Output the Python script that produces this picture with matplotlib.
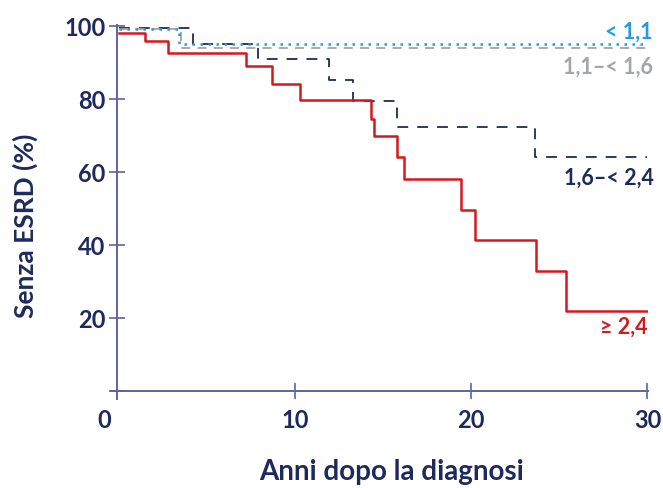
import matplotlib
matplotlib.use("Agg")
import matplotlib.pyplot as plt
from matplotlib.transforms import ScaledTranslation

# ---- data ----
t_lt11 = [0, 3.4, 30]
s_lt11 = [99.1, 94.9, 94.9]

t_11_16 = [0, 3.5, 30]
s_11_16 = [99.1, 94.0, 94.0]

t_16_24 = [0, 4.2, 7.9, 11.9, 13.3, 15.8, 23.6, 30]
s_16_24 = [99.3, 95.0, 90.9, 85.1, 79.5, 72.4, 64.1, 64.1]

t_ge24 = [0, 1.5, 2.8, 7.2, 8.7, 10.3, 14.3, 14.5, 15.8, 16.2, 19.4, 20.2, 23.7, 25.4, 30]
s_ge24 = [98.0, 95.9, 92.4, 88.9, 84.1, 79.7, 74.6, 69.7, 64.1, 58.0, 49.6, 41.3, 32.8, 22.0, 22.0]

x_ticks = [0, 10, 20, 30]
y_ticks = [20, 40, 60, 80, 100]
labels = ["< 1,1", "1,1\u2013< 1,6", "1,6\u2013< 2,4", "\u2265 2,4"]
xlabel = "Anni dopo la diagnosi"
ylabel = "Senza ESRD (%)"

# ---- style ----
NAVY = "#1f2a5c"
AXC = "#5d6592"
RED = "#d4181f"
BLUE = "#2b9ad8"
GRAY = "#a2a5aa"
plt.rcParams['font.family'] = ['Lato', 'DejaVu Sans']

fig = plt.figure(figsize=(6.63, 4.89), dpi=100)
W, H = 663, 489
x0px, x30px = 111, 648
ax = fig.add_axes([x0px / W, 1 - 400 / H, (x30px - x0px) / W, (400 - 26) / H])
ax.set_xlim(-0.45, 30.03)
ax.set_ylim(-2.2, 100.2)

ax.step(t_ge24, s_ge24, where='post', color=RED, lw=1.8, zorder=3)
ax.step(t_16_24, s_16_24, where='post', color=NAVY, lw=1.3, dashes=(6, 5), zorder=2)
ax.step(t_11_16, s_11_16, where='post', color=GRAY, lw=1.3, dashes=(5, 4), zorder=2)
ax.step(t_lt11, s_lt11, where='post', color=BLUE, lw=1.8, dashes=(1, 2.2), zorder=4)

for s in ['top', 'right']:
    ax.spines[s].set_visible(False)
ax.spines['left'].set_position(('data', -0.12))
ax.spines['bottom'].set_position(('data', 0))
for s in ['left', 'bottom']:
    ax.spines[s].set_color(AXC)
    ax.spines[s].set_linewidth(1.4)

ax.set_xticks(x_ticks)
ax.set_yticks([0] + y_ticks)
ax.set_yticklabels([""] + [str(v) for v in y_ticks])
ax.tick_params(axis='both', direction='inout', length=12, width=1.2, color=AXC,
               labelcolor=NAVY, labelsize=17)
ax.tick_params(axis='x', pad=6)
ax.tick_params(axis='y', pad=2)
for lab in ax.get_xticklabels() + ax.get_yticklabels():
    lab.set_fontweight('bold')
# the "0" on the x axis sits left of the origin in the reference
xt0 = ax.get_xticklabels()[0]
xt0.set_transform(xt0.get_transform() + ScaledTranslation(-15 / 100, 0, fig.dpi_scale_trans))
ax.xaxis.get_major_ticks()[0].tick1line.set_visible(False)

fig.text(392 / W, 1 - 472 / H, xlabel, ha='center', va='center', color=NAVY,
         fontsize=20, fontweight='bold')
fig.text(25 / W, 1 - 226 / H, ylabel, ha='center', va='center', color=NAVY,
         fontsize=19, fontweight='bold', rotation=90)

# series labels
def lab(xpx, ypx, txt, col):
    fig.text(xpx / W, 1 - ypx / H, txt, ha='right', va='center', color=col,
             fontsize=15.5, fontweight='bold')

lab(653, 32, labels[0], BLUE)
lab(653, 67, labels[1], GRAY)
lab(654, 178, labels[2], NAVY)
lab(648, 327, labels[3], RED)

fig.savefig("out.png", dpi=100)
